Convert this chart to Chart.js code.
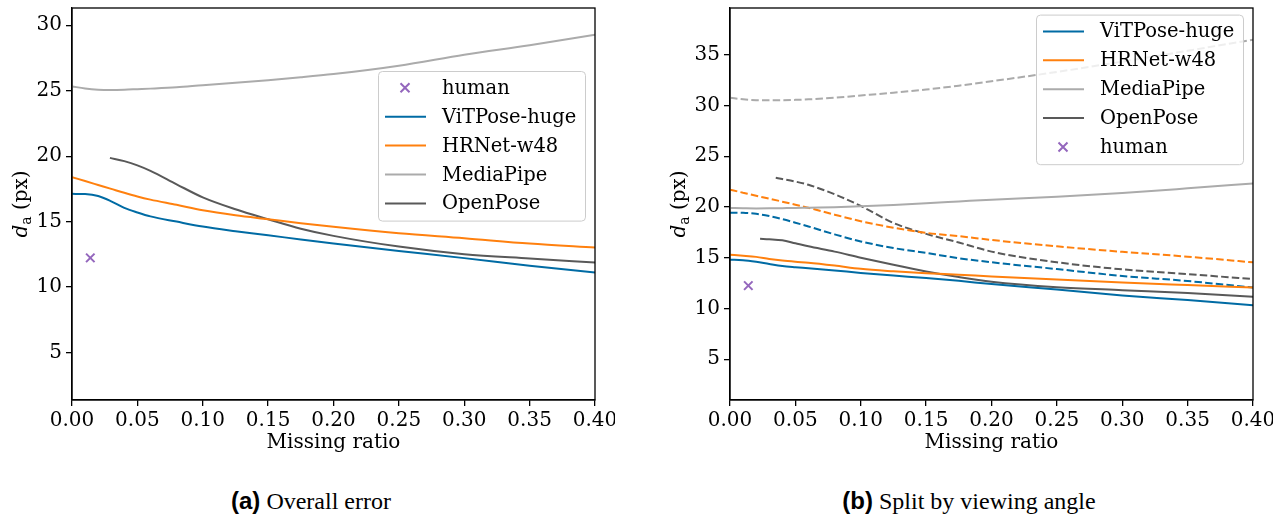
<!DOCTYPE html>
<html lang="en">
<head>
  <meta charset="UTF-8">
  <title>Missing ratio vs d_a</title>
  <script src="https://cdn.jsdelivr.net/npm/chart.js"></script>
  <style>
    body { margin: 0; width: 1288px; height: 517px; background: #fff; position: relative; overflow: hidden; }
    .panel { position: absolute; top: 0; width: 615px; height: 460px; }
    .caption { position: absolute; top: 487px; font-family: "Liberation Serif", serif; font-size: 24px; line-height: 28px; color: #000; white-space: nowrap; transform: translateX(-50%); }
    .caption b { font-family: "Liberation Sans", Arial, sans-serif; font-weight: bold; }
  </style>
</head>
<body>
  <div class="panel" style="left:0"><canvas id="overall"></canvas></div>
  <div class="panel" style="left:658px"><canvas id="split"></canvas></div>
  <div class="caption" style="left:311px"><b>(a)</b> Overall error</div>
  <div class="caption" style="left:969px"><b>(b)</b> Split by viewing angle</div>

  <script>
    // missing ratio grid shared by most curves
    const ratios = [0, 0.01, 0.02, 0.03, 0.04, 0.05, 0.06, 0.08, 0.10, 0.125, 0.15, 0.175, 0.20, 0.25, 0.30, 0.35, 0.40];

    // (a) overall error
    const overallVit = [17.12, 17.1, 16.95, 16.55, 16.05, 15.7, 15.4, 15.0, 14.62, 14.27, 13.96, 13.63, 13.32, 12.76, 12.21, 11.62, 11.11];
    const overallHrnet = [18.4, 18.1, 17.8, 17.5, 17.2, 16.92, 16.68, 16.28, 15.86, 15.48, 15.18, 14.88, 14.6, 14.11, 13.73, 13.32, 13.02];
    const overallMediapipe = [25.33, 25.17, 25.08, 25.06, 25.08, 25.12, 25.16, 25.26, 25.42, 25.6, 25.8, 26.02, 26.27, 26.91, 27.75, 28.48, 29.27];
    const overallOpenposeRatios = [0.029, 0.04, 0.05, 0.06, 0.08, 0.10, 0.125, 0.15, 0.175, 0.20, 0.25, 0.30, 0.35, 0.40];
    const overallOpenpose = [19.87, 19.62, 19.3, 18.88, 17.85, 16.85, 15.94, 15.18, 14.46, 13.91, 13.09, 12.51, 12.18, 11.87];
    const overallHuman = [0.014, 12.23];

    // (b) split by viewing angle: solid (view A) and dashed (view B)
    const splitVitA = [14.8, 14.76, 14.6, 14.38, 14.18, 14.06, 13.96, 13.74, 13.5, 13.24, 13.0, 12.72, 12.4, 11.86, 11.28, 10.82, 10.32];
    const splitVitB = [19.44, 19.42, 19.32, 19.1, 18.8, 18.45, 18.08, 17.3, 16.6, 15.95, 15.47, 14.95, 14.55, 13.88, 13.2, 12.7, 12.06];
    const splitHrnetA = [15.3, 15.2, 15.08, 14.88, 14.72, 14.6, 14.5, 14.22, 13.9, 13.66, 13.47, 13.32, 13.15, 12.85, 12.55, 12.3, 12.06];
    const splitHrnetB = [21.7, 21.4, 21.1, 20.82, 20.52, 20.22, 19.92, 19.24, 18.6, 17.95, 17.45, 17.12, 16.75, 16.12, 15.58, 15.1, 14.54];
    const splitMediapipeA = [19.9, 19.87, 19.85, 19.86, 19.88, 19.9, 19.93, 19.98, 20.06, 20.2, 20.36, 20.54, 20.72, 21.0, 21.37, 21.83, 22.32];
    const splitMediapipeB = [30.75, 30.6, 30.52, 30.5, 30.52, 30.55, 30.6, 30.76, 30.98, 31.26, 31.57, 31.95, 32.38, 33.3, 34.32, 35.39, 36.47];
    const splitOpenposeARatios = [0.023, 0.03, 0.04, 0.05, 0.06, 0.08, 0.10, 0.125, 0.15, 0.175, 0.20, 0.25, 0.30, 0.35, 0.40];
    const splitOpenposeA = [16.86, 16.82, 16.72, 16.42, 16.12, 15.6, 15.0, 14.3, 13.65, 13.1, 12.64, 12.1, 11.8, 11.52, 11.14];
    const splitOpenposeBRatios = [0.035, 0.04, 0.05, 0.06, 0.08, 0.10, 0.125, 0.15, 0.175, 0.20, 0.25, 0.30, 0.35, 0.40];
    const splitOpenposeB = [22.87, 22.75, 22.5, 22.18, 21.25, 20.1, 18.42, 17.35, 16.5, 15.6, 14.55, 13.85, 13.38, 12.9];
    const splitHuman = [0.014, 12.25];

    const xTicks = [0, 0.05, 0.10, 0.15, 0.20, 0.25, 0.30, 0.35, 0.40];

    const colors = { vit: '#006BA4', hrnet: '#FF800E', mediapipe: '#ABABAB', openpose: '#595959', human: '#9467bd' };
    const FONT = '"DejaVu Serif", serif';
    const DASH = [7.5, 3.2];

    function pts(xs, ys) { return xs.map((x, i) => ({ x: x, y: ys[i] })); }

    function line(label, xs, ys, color, dashed) {
      return {
        label: label, data: pts(xs, ys), borderColor: color, backgroundColor: color,
        borderWidth: 2, pointRadius: 0, borderDash: dashed ? DASH : [],
        cubicInterpolationMode: 'monotone', fill: false
      };
    }
    function human(h) {
      return {
        type: 'scatter', label: 'human', data: [{ x: h[0], y: h[1] }],
        borderColor: colors.human, backgroundColor: colors.human,
        pointStyle: 'crossRot', pointRadius: 6, borderWidth: 2, showLine: false
      };
    }

    // frame, y label and inset legend
    const decor = {
      id: 'decor',
      afterDraw(chart, args, opts) {
        const ctx = chart.ctx, a = chart.chartArea;
        ctx.save();
        ctx.strokeStyle = '#000';
        ctx.lineWidth = 1.3;
        ctx.strokeRect(a.left, a.top, a.right - a.left, a.bottom - a.top);

        // y axis label: italic d, subscript a, (px)
        ctx.translate(27, (a.top + a.bottom) / 2);
        ctx.rotate(-Math.PI / 2);
        ctx.fillStyle = '#000';
        ctx.textBaseline = 'alphabetic';
        ctx.font = 'italic 20px ' + FONT;
        const wD = ctx.measureText('d').width;
        ctx.font = '14px ' + FONT;
        const wA = ctx.measureText('a').width;
        ctx.font = '20px ' + FONT;
        const wP = ctx.measureText(' (px)').width;
        let x0 = -(wD + wA + wP) / 2;
        ctx.font = 'italic 20px ' + FONT;
        ctx.fillText('d', x0, 0);
        ctx.font = '14px ' + FONT;
        ctx.fillText('a', x0 + wD, 4);
        ctx.font = '20px ' + FONT;
        ctx.fillText(' (px)', x0 + wD + wA, 0);
        ctx.restore();

        // legend
        const L = opts;
        const n = L.items.length;
        const bw = 207, rowH = 28.9;
        const bh = rowH * (n - 1) + 34;
        const bx = a.right - 10 - bw, by = a.top + L.top;
        ctx.save();
        ctx.beginPath();
        ctx.roundRect(bx + 0.5, by + 0.5, bw, bh, 4);
        ctx.fillStyle = 'rgba(255,255,255,0.8)';
        ctx.fill();
        ctx.strokeStyle = '#cccccc';
        ctx.lineWidth = 1;
        ctx.stroke();
        ctx.font = '19.5px ' + FONT;
        ctx.textBaseline = 'middle';
        L.items.forEach((name, i) => {
          const ds = chart.data.datasets.find(d => d.label === name);
          const cy = by + 16.8 + i * rowH;
          if (name === 'human') {
            const cx = bx + 27, r = 4.5;
            ctx.strokeStyle = ds.borderColor;
            ctx.lineWidth = 2;
            ctx.beginPath();
            ctx.moveTo(cx - r, cy - r); ctx.lineTo(cx + r, cy + r);
            ctx.moveTo(cx + r, cy - r); ctx.lineTo(cx - r, cy + r);
            ctx.stroke();
          } else {
            ctx.strokeStyle = ds.borderColor;
            ctx.lineWidth = 2;
            ctx.beginPath();
            ctx.moveTo(bx + 7, cy); ctx.lineTo(bx + 48, cy);
            ctx.stroke();
          }
          ctx.fillStyle = '#000';
          ctx.fillText(name, bx + 64, cy + 1);
        });
        ctx.restore();
      }
    };

    function makeOptions(ymin, ymax, legendItems, legendTop) {
      const tickFont = { family: FONT, size: 20 };
      return {
        responsive: true, maintainAspectRatio: false, animation: false,
        layout: { padding: { left: 0, right: 20, top: 6, bottom: 0 } },
        plugins: {
          legend: { display: false }, tooltip: { enabled: false },
          decor: { items: legendItems, top: legendTop }
        },
        scales: {
          x: {
            type: 'linear', min: 0, max: 0.4,
            afterFit: s => { s.height = 60; s.paddingLeft = 0; s.paddingRight = 0; },
            afterBuildTicks: s => { s.ticks = xTicks.map(v => ({ value: v })); },
            ticks: { font: tickFont, color: '#000', padding: 3, maxRotation: 0, autoSkip: false, callback: v => v.toFixed(2) },
            grid: { drawOnChartArea: false, drawTicks: true, tickLength: 6, color: '#000', lineWidth: 1.3 },
            border: { display: true, color: '#000', width: 1.3 },
            title: { display: true, text: 'Missing ratio', color: '#000', font: { family: FONT, size: 20 }, padding: { top: 0, bottom: 5 } }
          },
          y: {
            min: ymin, max: ymax,
            afterFit: s => { s.width = 72; s.paddingTop = 0; s.paddingBottom = 0; },
            ticks: { stepSize: 5, includeBounds: false, font: tickFont, color: '#000', padding: 4 },
            grid: { drawOnChartArea: false, drawTicks: true, tickLength: 6, color: '#000', lineWidth: 1.3 },
            border: { display: true, color: '#000', width: 1.3 }
          }
        }
      };
    }

    new Chart(document.getElementById('overall'), {
      type: 'line',
      data: {
        datasets: [
          line('ViTPose-huge', ratios, overallVit, colors.vit),
          line('HRNet-w48', ratios, overallHrnet, colors.hrnet),
          line('MediaPipe', ratios, overallMediapipe, colors.mediapipe),
          line('OpenPose', overallOpenposeRatios, overallOpenpose, colors.openpose),
          human(overallHuman)
        ]
      },
      options: makeOptions(1.37, 31.32, ['human', 'ViTPose-huge', 'HRNet-w48', 'MediaPipe', 'OpenPose'], 63),
      plugins: [decor]
    });

    new Chart(document.getElementById('split'), {
      type: 'line',
      data: {
        datasets: [
          line('ViTPose-huge', ratios, splitVitA, colors.vit),
          line('HRNet-w48', ratios, splitHrnetA, colors.hrnet),
          line('MediaPipe', ratios, splitMediapipeA, colors.mediapipe),
          line('OpenPose', splitOpenposeARatios, splitOpenposeA, colors.openpose),
          line('ViTPose-huge dashed', ratios, splitVitB, colors.vit, true),
          line('HRNet-w48 dashed', ratios, splitHrnetB, colors.hrnet, true),
          line('MediaPipe dashed', ratios, splitMediapipeB, colors.mediapipe, true),
          line('OpenPose dashed', splitOpenposeBRatios, splitOpenposeB, colors.openpose, true),
          human(splitHuman)
        ]
      },
      options: makeOptions(0.98, 39.6, ['ViTPose-huge', 'HRNet-w48', 'MediaPipe', 'OpenPose', 'human'], 6.6),
      plugins: [decor]
    });
  </script>
</body>
</html>
